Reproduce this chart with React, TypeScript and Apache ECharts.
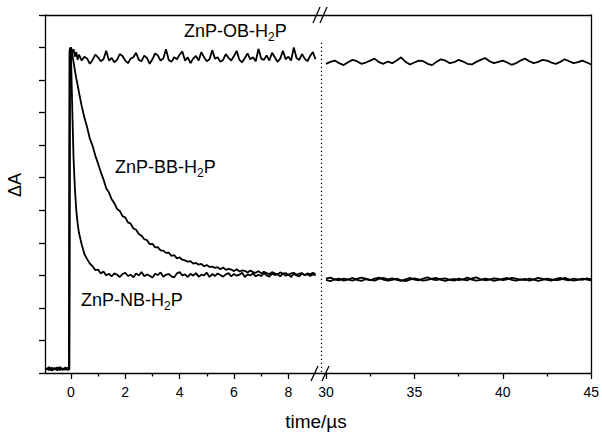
import React, { useEffect, useRef } from "react";
import * as echarts from "echarts";

// time axis (µs), left segment of broken axis
const tLeft = [
  -0.9, -0.8, -0.7, -0.6, -0.5, -0.4, -0.3, -0.2, -0.1, -0.06,
  -0.04,
  0, 0.05, 0.1, 0.15, 0.2, 0.25, 0.3,
  0.4, 0.5, 0.6, 0.7, 0.8, 0.9, 1.0, 1.1, 1.2, 1.3,
  1.4, 1.5, 1.6, 1.7, 1.8, 1.9, 2.0, 2.1, 2.2, 2.3,
  2.4, 2.5, 2.6, 2.7, 2.8, 2.9, 3.0, 3.1, 3.2, 3.3,
  3.4, 3.5, 3.6, 3.7, 3.8, 3.9, 4.0, 4.1, 4.2, 4.3,
  4.4, 4.5, 4.6, 4.7, 4.8, 4.9, 5.0, 5.1, 5.2, 5.3,
  5.4, 5.5, 5.6, 5.7, 5.8, 5.9, 6.0, 6.1, 6.2, 6.3,
  6.4, 6.5, 6.6, 6.7, 6.8, 6.9, 7.0, 7.1, 7.2, 7.3,
  7.4, 7.5, 7.6, 7.7, 7.8, 7.9, 8.0, 8.1, 8.2, 8.3,
  8.4, 8.5, 8.6, 8.7, 8.8, 8.9, 9.0,
];

const obLeft = [
  0.12, 0.18, 0.1, 0.15, 0.08, 0.16, 0.11, 0.17, 0.09, 0.12,
  9.9,
  10.0, 9.85, 9.95, 9.72, 9.86, 9.62, 9.78,
  9.6, 9.72, 9.66, 9.5, 9.62, 9.78, 9.7, 9.58, 9.64, 9.9,
  9.6, 9.68, 9.55, 9.62, 9.8, 9.74, 9.6, 9.52, 9.66, 9.7,
  9.84, 9.62, 9.58, 9.75, 9.68, 9.5, 9.64, 9.82, 9.76, 9.6,
  9.66, 9.95, 9.62, 9.56, 9.7, 9.64, 9.78, 9.88, 9.6, 9.7,
  9.52, 9.66, 9.74, 9.6, 9.86, 9.7, 9.58, 9.64, 9.92, 9.66,
  9.7, 9.56, 9.62, 9.8, 9.68, 9.6, 9.74, 9.9, 9.62, 9.55,
  9.68, 9.82, 9.64, 9.7, 9.58, 9.96, 9.66, 9.62, 9.76, 9.6,
  9.84, 9.7, 9.56, 9.66, 9.9, 9.64, 9.72, 9.6, 10.0, 9.68,
  9.62, 9.8, 9.66, 9.58, 9.74, 9.86, 9.64,
];

const bbLeft = [
  0.14, 0.09, 0.16, 0.11, 0.13, 0.18, 0.1, 0.12, 0.16, 0.1,
  9.9,
  10.0, 9.8, 9.55, 9.3, 9.05, 8.85, 8.62,
  8.2, 7.84, 7.55, 7.2, 6.98, 6.68, 6.44, 6.18, 5.95, 5.68,
  5.55, 5.34, 5.22, 5.04, 4.98, 4.82, 4.78, 4.63, 4.59, 4.44,
  4.4, 4.27, 4.22, 4.11, 4.08, 3.96, 3.97, 3.86, 3.87, 3.77,
  3.76, 3.69, 3.7, 3.6, 3.62, 3.52, 3.55, 3.48, 3.46, 3.42,
  3.44, 3.36, 3.38, 3.33, 3.35, 3.28, 3.32, 3.26, 3.27, 3.23,
  3.25, 3.19, 3.24, 3.17, 3.2, 3.18, 3.13, 3.19, 3.12, 3.15,
  3.14, 3.09, 3.15, 3.1, 3.08, 3.13, 3.06, 3.11, 3.07, 3.04,
  3.1, 3.06, 3.03, 3.09, 3.05, 3.07, 3.01, 3.06, 3.08, 3.02,
  3.05, 3.07, 3.0, 3.06, 3.03, 3.08, 3.04,
];

const nbLeft = [
  0.1, 0.14, 0.08, 0.13, 0.17, 0.09, 0.14, 0.1, 0.15, 0.11,
  9.95,
  10.0, 8.2, 6.6, 5.65, 5.0, 4.6, 4.3,
  3.95, 3.65, 3.5, 3.36, 3.28, 3.16, 3.18, 3.06, 3.12, 3.0,
  3.05, 2.97, 3.06, 3.02, 2.95, 3.04, 3.08, 2.98, 3.02, 2.94,
  3.06, 3.0, 3.1, 2.97, 3.03, 2.99, 2.93, 3.05, 3.01, 3.09,
  2.96, 3.02, 3.04, 2.97, 2.94, 3.06, 3.1, 3.0, 3.03, 2.95,
  3.05, 2.99, 3.07, 2.96, 3.02, 3.0, 3.08, 2.95, 3.04, 2.98,
  3.06, 3.01, 2.96, 3.03, 3.07, 2.97, 3.04, 2.99, 3.02, 3.08,
  2.95, 3.03, 3.0, 3.06, 2.97, 3.02, 2.98, 3.07, 3.0, 2.96,
  3.05, 3.01, 3.04, 2.97, 3.06, 2.99, 3.03, 2.95, 3.05, 3.0,
  2.97, 3.06, 3.01, 3.04, 2.98, 3.03, 3.0,
];

// right segment of broken axis
const tRight = [
  30, 30.25, 30.5, 30.75, 31, 31.25, 31.5, 31.75, 32, 32.25,
  32.5, 32.75, 33, 33.25, 33.5, 33.75, 34, 34.25, 34.5, 34.75,
  35, 35.25, 35.5, 35.75, 36, 36.25, 36.5, 36.75, 37, 37.25,
  37.5, 37.75, 38, 38.25, 38.5, 38.75, 39, 39.25, 39.5, 39.75,
  40, 40.25, 40.5, 40.75, 41, 41.25, 41.5, 41.75, 42, 42.25,
  42.5, 42.75, 43, 43.25, 43.5, 43.75, 44, 44.25, 44.5, 44.75,
  45,
];

const obRight = [
  9.5, 9.56, 9.6, 9.52, 9.46, 9.55, 9.62, 9.58, 9.5, 9.54,
  9.6, 9.66, 9.55, 9.5, 9.57, 9.52, 9.6, 9.7, 9.56, 9.48,
  9.54, 9.6, 9.58, 9.5, 9.46, 9.56, 9.64, 9.6, 9.52, 9.55,
  9.62, 9.57, 9.5, 9.48, 9.56, 9.62, 9.68, 9.58, 9.52, 9.56,
  9.6, 9.54, 9.47, 9.52, 9.6, 9.66, 9.58, 9.52, 9.56, 9.62,
  9.6, 9.54, 9.5, 9.56, 9.64, 9.58, 9.52, 9.55, 9.6, 9.54,
  9.48,
];

const nbRight = [
  2.86, 2.82, 2.88, 2.9, 2.84, 2.87, 2.92, 2.86, 2.83, 2.88,
  2.85, 2.9, 2.93, 2.87, 2.84, 2.86, 2.9, 2.85, 2.82, 2.87,
  2.91, 2.88, 2.84, 2.86, 2.9, 2.92, 2.86, 2.83, 2.87, 2.89,
  2.85, 2.88, 2.93, 2.87, 2.84, 2.86, 2.9, 2.88, 2.83, 2.86,
  2.89, 2.92, 2.86, 2.84, 2.88, 2.85, 2.9, 2.87, 2.83, 2.86,
  2.9, 2.88, 2.85, 2.87, 2.92, 2.88, 2.84, 2.86, 2.9, 2.87,
  2.85,
];

const bbRight = [
  2.9, 2.93, 2.87, 2.85, 2.9, 2.88, 2.84, 2.89, 2.93, 2.9,
  2.86, 2.84, 2.89, 2.92, 2.88, 2.91, 2.86, 2.83, 2.88, 2.92,
  2.87, 2.85, 2.9, 2.94, 2.88, 2.85, 2.89, 2.91, 2.86, 2.84,
  2.9, 2.87, 2.85, 2.91, 2.94, 2.88, 2.85, 2.87, 2.91, 2.89,
  2.85, 2.88, 2.92, 2.9, 2.86, 2.89, 2.84, 2.88, 2.92, 2.89,
  2.86, 2.84, 2.89, 2.92, 2.87, 2.85, 2.9, 2.88, 2.86, 2.91,
  2.88,
];

const leftMajorTicks = [0, 2, 4, 6, 8];
const leftMinorTicks = [1, 3, 5, 7];
const rightMajorTicks = [30, 35, 40, 45];
const rightMinorTicks = [32.5, 37.5, 42.5];

const FONT = "'Liberation Sans', Arial, Helvetica, sans-serif";

function zip(ts: number[], vs: number[]) {
  const n = Math.min(ts.length, vs.length);
  const out: number[][] = [];
  for (let i = 0; i < n; i++) out.push([ts[i], vs[i]]);
  return out;
}

function label(name: string, x: number, y: number) {
  return {
    type: "text",
    x,
    y,
    style: {
      text: `{a|ZnP-${name}-H}{s|2}{a|P}`,
      align: "left",
      verticalAlign: "middle",
      rich: {
        a: { fontSize: 18, fontFamily: FONT, fill: "#000", lineHeight: 21 },
        s: { fontSize: 12, fontFamily: FONT, fill: "#000", lineHeight: 12, padding: [11, 0, 0, 0] },
      },
    },
  };
}

export default function App() {
  const ref = useRef<HTMLDivElement>(null);
  useEffect(() => {
    if (!ref.current) return;
    const chart = echarts.init(ref.current, null, { renderer: "svg" });
    const axisLine = { show: true, onZero: false, lineStyle: { color: "#000", width: 1.3 } };
    const noLine = { show: false, onZero: false };
    const lineStyle = { color: "#000", width: 1.8 };
    const xMin0 = -0.95, xMax0 = 9.2, xMin1 = 29.72, xMax1 = 45;
    const yMax = 11;
    const base = (grid: number, min: number, max: number) => ({
      type: "value",
      gridIndex: grid,
      min,
      max,
      splitLine: { show: false },
    });
    const tick = (vals: number[] | undefined, len: number) => ({
      show: true,
      inside: false,
      ...(vals ? { customValues: vals } : {}),
      length: len,
      lineStyle: { color: "#000", width: 1.3 },
    });
    const lab = (vals: number[]) => ({
      show: true, customValues: vals, fontSize: 14, color: "#000", fontFamily: FONT, margin: 12,
    });
    chart.setOption({
      animation: false,
      backgroundColor: "#fff",
      grid: [
        { left: 45, top: 15, width: 276, height: 358 },
        { left: 321, top: 15, width: 276, height: 358 },
      ],
      xAxis: [
        { ...base(0, xMin0, xMax0), position: "bottom", axisLine, axisTick: tick(leftMajorTicks, 6), axisLabel: lab(leftMajorTicks) },
        { ...base(0, xMin0, xMax0), position: "bottom", axisLine: noLine, axisTick: tick(leftMinorTicks, 3.5), axisLabel: { show: false } },
        { ...base(0, xMin0, xMax0), position: "top", axisLine, axisTick: { show: false }, axisLabel: { show: false } },
        { ...base(1, xMin1, xMax1), position: "bottom", axisLine, axisTick: tick(rightMajorTicks, 6), axisLabel: lab(rightMajorTicks) },
        { ...base(1, xMin1, xMax1), position: "bottom", axisLine: noLine, axisTick: tick(rightMinorTicks, 3.5), axisLabel: { show: false } },
        { ...base(1, xMin1, xMax1), position: "top", axisLine, axisTick: { show: false }, axisLabel: { show: false } },
      ],
      yAxis: [
        { ...base(0, 0, yMax), interval: 1, position: "left", axisLine, axisTick: tick(undefined, 6), axisLabel: { show: false } },
        { ...base(1, 0, yMax), interval: 1, position: "right", axisLine, axisTick: { show: false }, axisLabel: { show: false } },
      ],
      series: [
        { type: "line", xAxisIndex: 0, yAxisIndex: 0, data: zip(tLeft, obLeft), showSymbol: false, lineStyle },
        { type: "line", xAxisIndex: 0, yAxisIndex: 0, data: zip(tLeft, bbLeft), showSymbol: false, lineStyle },
        { type: "line", xAxisIndex: 0, yAxisIndex: 0, data: zip(tLeft, nbLeft), showSymbol: false, lineStyle },
        {
          type: "line", xAxisIndex: 3, yAxisIndex: 1, data: zip(tRight, obRight), showSymbol: false, lineStyle,
          clip: false,
          markLine: {
            silent: true,
            symbol: ["none", "none"],
            label: { show: false },
            lineStyle: { color: "#000", width: 1.2, type: [1.4, 2.6] },
            data: [[{ coord: [xMin1, 10.15] }, { coord: [xMin1, 0] }]],
          },
        },
        { type: "line", xAxisIndex: 3, yAxisIndex: 1, data: zip(tRight, bbRight), showSymbol: false, lineStyle },
        { type: "line", xAxisIndex: 3, yAxisIndex: 1, data: zip(tRight, nbRight), showSymbol: false, lineStyle },
      ],
      graphic: [
        label("OB", 184, 31),
        label("BB", 115, 167),
        label("NB", 81, 300),
        {
          type: "text", x: 316, y: 421,
          style: { text: "time/µs", fontSize: 19, fontFamily: FONT, fill: "#000", align: "center", verticalAlign: "middle" },
        },
        {
          type: "text", x: 15, y: 185, rotation: Math.PI / 2,
          style: { text: "ΔA", fontSize: 18, fontFamily: FONT, fill: "#000", align: "center", verticalAlign: "middle" },
        },
        { type: "rect", shape: { x: 318, y: 371, width: 4, height: 4 }, style: { fill: "#fff" } },
        { type: "line", shape: { x1: 311, y1: 381, x2: 318, y2: 366 }, style: { stroke: "#000", lineWidth: 1.3 } },
        { type: "line", shape: { x1: 322, y1: 381, x2: 329, y2: 366 }, style: { stroke: "#000", lineWidth: 1.3 } },
        { type: "rect", shape: { x: 317, y: 13, width: 5, height: 4 }, style: { fill: "#fff" } },
        { type: "line", shape: { x1: 313, y1: 23, x2: 320, y2: 7 }, style: { stroke: "#000", lineWidth: 1.3 } },
        { type: "line", shape: { x1: 320, y1: 23, x2: 327, y2: 7 }, style: { stroke: "#000", lineWidth: 1.3 } },
      ],
    });
    return () => chart.dispose();
  }, []);
  return (
    <div
      ref={ref}
      style={{ position: "absolute", left: 0, top: 0, width: 602, height: 433, background: "#fff" }}
    />
  );
}
